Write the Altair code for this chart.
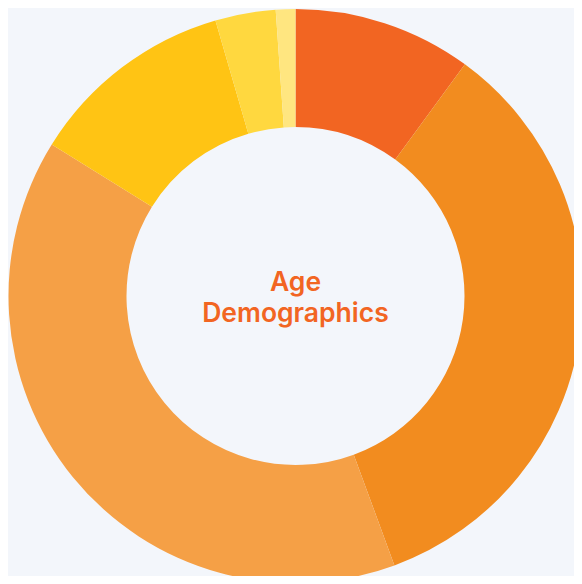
import altair as alt
import pandas as pd

groups = ["Under 18", "18-24", "25-34", "35-44", "45-54", "55+"]
values = [10.05, 34.35, 39.45, 11.65, 3.4, 1.1]
colors = ["#F26522", "#F28C1F", "#F5A046", "#FFC414", "#FFD83F", "#FFE680"]
order = [1, 2, 3, 4, 5, 6]
title_lines = ["Age", "Demographics"]

df = pd.DataFrame({"group": groups, "value": values, "order": order})

bg = "#F3F6FB"
cx, cy = 287.5, 288

arc = alt.Chart(df).mark_arc(innerRadius=169, outerRadius=287).encode(
    theta=alt.Theta("value:Q", stack=True),
    order=alt.Order("order:Q"),
    color=alt.Color("group:N", scale=alt.Scale(domain=groups, range=colors), legend=None),
    x=alt.value(cx),
    y=alt.value(cy),
)

text = alt.Chart(pd.DataFrame({"t": [title_lines]})).mark_text(
    font="Inter", fontSize=26.5, fontWeight=600, color="#F26522",
    lineHeight=31, baseline="alphabetic", align="center",
).encode(text="t", x=alt.value(cx), y=alt.value(283))

chart = alt.layer(arc, text).properties(
    width=566, height=568, padding=0, background=bg,
    autosize=alt.AutoSizeParams(type="none"),
).configure_view(stroke=None)

chart.save("out.html", embed_options={"renderer": "svg", "actions": False})
